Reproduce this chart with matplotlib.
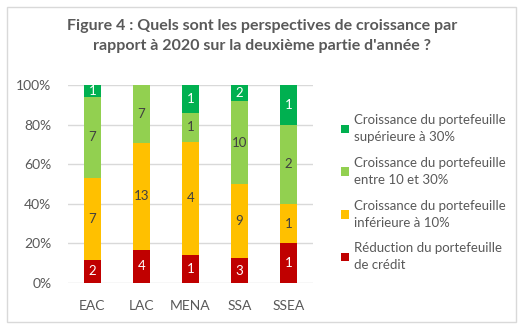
import numpy as np
import matplotlib.pyplot as plt
from matplotlib.patches import Rectangle, Patch

plt.rcParams['font.family'] = ['Lato', 'DejaVu Sans']

regions = ["EAC", "LAC", "MENA", "SSA", "SSEA"]
reduction = [2, 4, 1, 3, 1]
croiss_lt10 = [7, 13, 4, 9, 1]
croiss_10_30 = [7, 7, 1, 10, 2]
croiss_gt30 = [1, 0, 1, 2, 1]

series = [
    (reduction, "#C00000", "white", "Réduction du portefeuille\nde crédit"),
    (croiss_lt10, "#FFC000", "#404040", "Croissance du portefeuille\ninférieure à 10%"),
    (croiss_10_30, "#92D050", "#404040", "Croissance du portefeuille\nentre 10 et 30%"),
    (croiss_gt30, "#00B050", "white", "Croissance du portefeuille\nsupérieure à 30%"),
]

W, H = 523, 334
fig = plt.figure(figsize=(W / 100, H / 100), dpi=100)
fig.patches.append(Rectangle((7 / W, 12 / H), 509 / W, 315 / H, transform=fig.transFigure,
                             fill=False, edgecolor="#D9D9D9", linewidth=1))

fig.text(262 / W, 1 - 26 / H, "Figure 4 : Quels sont les perspectives de croissance par",
         ha="center", va="center", fontsize=11.5, fontweight="bold", color="#595959")
fig.text(262 / W, 1 - 46 / H, "rapport à 2020 sur la deuxième partie d'année ?",
         ha="center", va="center", fontsize=11.5, fontweight="bold", color="#595959")

ax = fig.add_axes([68 / W, 51 / H, 245 / W, 198 / H])

totals = np.sum([s[0] for s in series], axis=0)
x = np.arange(len(regions))
bottom = np.zeros(len(regions))
handles = []
for vals, color, tcolor, label in series:
    share = np.array(vals) / totals * 100
    ax.bar(x, share, width=0.33, bottom=bottom, color=color, zorder=2)
    for i, v in enumerate(vals):
        if v > 0:
            ax.text(x[i], bottom[i] + share[i] / 2, str(v), ha="center", va="center",
                    fontsize=9.5, color=tcolor, zorder=3)
    bottom += share
    handles.append(Patch(facecolor=color, label=label))

ax.set_xlim(-0.5, len(regions) - 0.5)
ax.set_ylim(0, 100)
ax.set_yticks(np.arange(0, 101, 20))
ax.set_yticklabels([f"{t}%" for t in range(0, 101, 20)])
ax.set_xticks(x)
ax.set_xticklabels(regions)
ax.tick_params(length=0, labelsize=10, colors="#595959")
ax.tick_params(axis="x", pad=12)
ax.tick_params(axis="y", pad=12)
ax.grid(axis="y", color="#D9D9D9", linewidth=1, zorder=0)
for sp in ax.spines.values():
    sp.set_visible(False)

leg = fig.legend(handles=handles[::-1], loc="upper left", bbox_to_anchor=(329 / W, 1 - 102 / H),
                 frameon=False, fontsize=9.5, handlelength=0.6, handleheight=0.6,
                 handletextpad=0.4, labelspacing=1.05, labelcolor="#595959")
for t in leg.get_texts():
    t.set_linespacing(1.5)

fig.savefig("out.png", dpi=100)
